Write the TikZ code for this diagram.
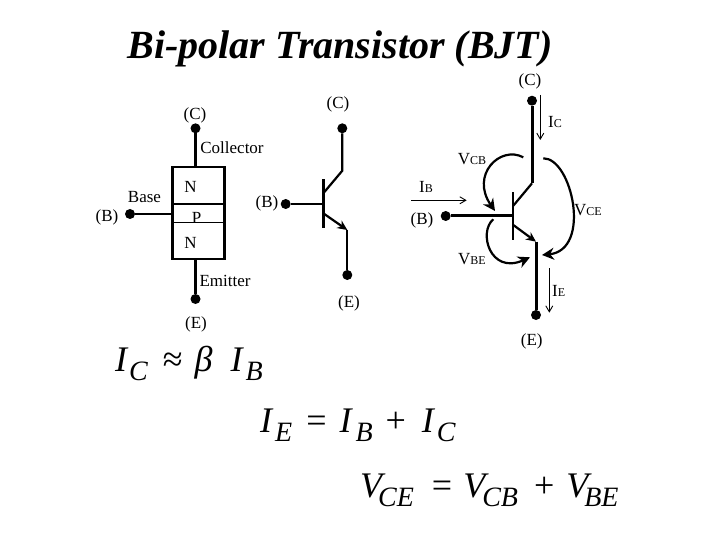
\documentclass[tikz,border=0pt]{standalone}
\usepackage{fontspec}
\setmainfont{Liberation Serif}
\usetikzlibrary{arrows.meta}
\newcommand{\sm}[1]{{\fontsize{12}{12}\selectfont #1}}
\newcommand{\eqsub}[1]{\raisebox{-9.5pt}{\fontsize{28}{28}\selectfont #1}}
\newcommand{\eqop}[1]{{\upshape #1}}
\tikzset{
  dot/.style={circle,fill=black,inner sep=0pt,minimum size=10pt},
  lbl/.style={inner sep=0pt,font=\fontsize{17}{17}\selectfont},
  eqn/.style={inner sep=0pt,anchor=base west,font=\fontsize{36}{36}\selectfont\itshape},
  wire/.style={line width=2.2pt},
  fatwire/.style={line width=3pt},
  volt/.style={line width=2.2pt,-{Stealth[length=12pt,width=12pt]}},
  curr/.style={line width=.9pt,-{Straight Barb[length=6pt,width=7pt]}}
}
\begin{document}
\begin{tikzpicture}[x=1pt,y=-1pt]
  \useasboundingbox (0,0) rectangle (720,540);
  \node [inner sep=0pt,anchor=base,font=\fontsize{40}{40}\selectfont\bfseries\itshape] (title) at (340,59) {Bi-polar Transistor (BJT)};
  % left: the layers
  \node [dot] (c1) at (195.5,128.3) {};
  \node [dot] (b1) at (130,214) {};
  \node [dot] (e1) at (195.5,299) {};
  \node [draw,line width=2.6pt,minimum width=52pt,minimum height=92pt,inner sep=0pt] (box) at (198.5,213) {};
  \coordinate (pl) at (172.5,204); \coordinate (pr) at (224.5,204);
  \coordinate (ql) at (172.5,222.7); \coordinate (qr) at (224.5,222.7);
  \draw [wire] (c1)--(c1|-box.north);
  \draw [wire] (e1)--(e1|-box.south);
  \draw [wire] (b1)--(b1-|box.west);
  \draw [line width=1.6pt] (pl)--(pr);
  \draw [line width=1.6pt] (ql)--(qr);
  \node [lbl] (cl1) at (195,115) {(C)};
  \node [lbl] (collector) at (232,148) {Collector};
  \node [lbl] (base) at (144.5,197) {Base};
  \node [lbl] (bl1) at (107,217) {(B)};
  \node [lbl] (n1) at (190.5,187) {N};
  \node [lbl] (p1) at (196.5,218) {P};
  \node [lbl] (n2) at (190.5,243) {N};
  \node [lbl] (emitter) at (225,281) {Emitter};
  \node [lbl] (el1) at (196,324) {(E)};
  % middle: the symbol
  \node [dot] (c2) at (342.3,128.3) {};
  \node [dot] (b2) at (285.7,204) {};
  \node [dot] (e2) at (347.3,275) {};
  \coordinate (c2k) at (342.3,170.7); \coordinate (c2j) at (323.3,193.3);
  \coordinate (e2j) at (323.3,213.3); \coordinate (e2k) at (347.3,230);
  \coordinate (bar2a) at (323.3,179.3); \coordinate (bar2b) at (323.3,228.3);
  \coordinate (b2j) at (323.3,204);
  \draw [wire] (c2)--(c2k)--(c2j);
  \draw [wire] (b2)--(b2j);
  \draw [line width=2.6pt] (bar2a)--(bar2b);
  \draw [wire,-{Stealth[length=10pt,width=9pt]}] (e2j)--(e2k);
  \draw [wire] (e2k)--(e2);
  \node [lbl] (cl2) at (338,104) {(C)};
  \node [lbl] (bl2) at (267,203) {(B)};
  \node [lbl] (el2) at (349,303) {(E)};
  % right: the symbol with currents and voltages
  \node [dot] (c3) at (532,100.7) {};
  \node [dot] (b3) at (445.7,216) {};
  \node [dot] (e3) at (536,315) {};
  \coordinate (c3k) at (532,183.3); \coordinate (c3j) at (513.3,205.7);
  \coordinate (e3j) at (513.3,225); \coordinate (e3k) at (536,241.7);
  \coordinate (bar3a) at (513.3,192.3); \coordinate (bar3b) at (513.3,240);
  \coordinate (b3j) at (513.3,216);
  \draw [fatwire] (c3)--(c3k);
  \draw [wire] (c3k)--(c3j);
  \draw [fatwire] (b3)--(b3j);
  \draw [line width=1.8pt] (bar3a)--(bar3b);
  \draw [wire,-{Stealth[length=10pt,width=9pt]}] (e3j)--(e3k);
  \draw [fatwire] (e3k)--(e3);
  \coordinate (ic1) at (540.3,95); \coordinate (ic2) at (540.3,140);
  \coordinate (ib1) at (411,200.3); \coordinate (ib2) at (466.7,200.3);
  \coordinate (ie1) at (549.3,268.3); \coordinate (ie2) at (549.3,312.7);
  \draw [curr] (ic1)--(ic2);
  \draw [curr] (ib1)--(ib2);
  \draw [curr] (ie1)--(ie2);
  \coordinate (vcb1) at (523.3,157.3); \coordinate (vcb2) at (495,211);
  \coordinate (vce1) at (543.3,158.3); \coordinate (vce2) at (542,255);
  \coordinate (vbe1) at (493.3,219.3); \coordinate (vbe2) at (530,257.3);
  \draw [volt] (vcb1) .. controls (500,145) and (470,175) .. (vcb2);
  \draw [volt] (vce1) .. controls (572,158) and (592,250) .. (vce2);
  \draw [volt] (vbe1) .. controls (478,232) and (490,275) .. (vbe2);
  \node [lbl] (cl3) at (530,81) {(C)};
  \node [lbl] (bl3) at (422,220.7) {(B)};
  \node [lbl] (el3) at (531.7,341) {(E)};
  \node [lbl] (ic) at (555,121.7) {I\sm{C}};
  \node [lbl] (ib) at (426,186.7) {I\sm{B}};
  \node [lbl] (ie) at (558.7,290.7) {I\sm{E}};
  \node [lbl] (vcb) at (472,158.7) {V\sm{CB}};
  \node [lbl] (vce) at (588,210) {V\sm{CE}};
  \node [lbl] (vbe) at (472,259) {V\sm{BE}};
  % equations
  \node [eqn] (eq1) at (115,371) {I\kern2pt\eqsub{C}\kern15pt\eqop{≈}\kern12pt β\kern18pt I\kern3pt\eqsub{B}};
  \node [eqn] (eq2) at (260,432) {I\kern3pt\eqsub{E}\kern14pt\eqop{=}\kern13pt I\kern4pt\eqsub{B}\kern13pt\eqop{+}\kern16pt I\kern3pt\eqsub{C}};
  \node [eqn] (eq3) at (360,497) {V\kern-4pt\eqsub{CE}\kern18pt\eqop{=}\kern11pt V\kern-3pt\eqsub{CB}\kern16pt\eqop{+}\kern12pt V\kern-4pt\eqsub{BE}};
\end{tikzpicture}
\end{document}
